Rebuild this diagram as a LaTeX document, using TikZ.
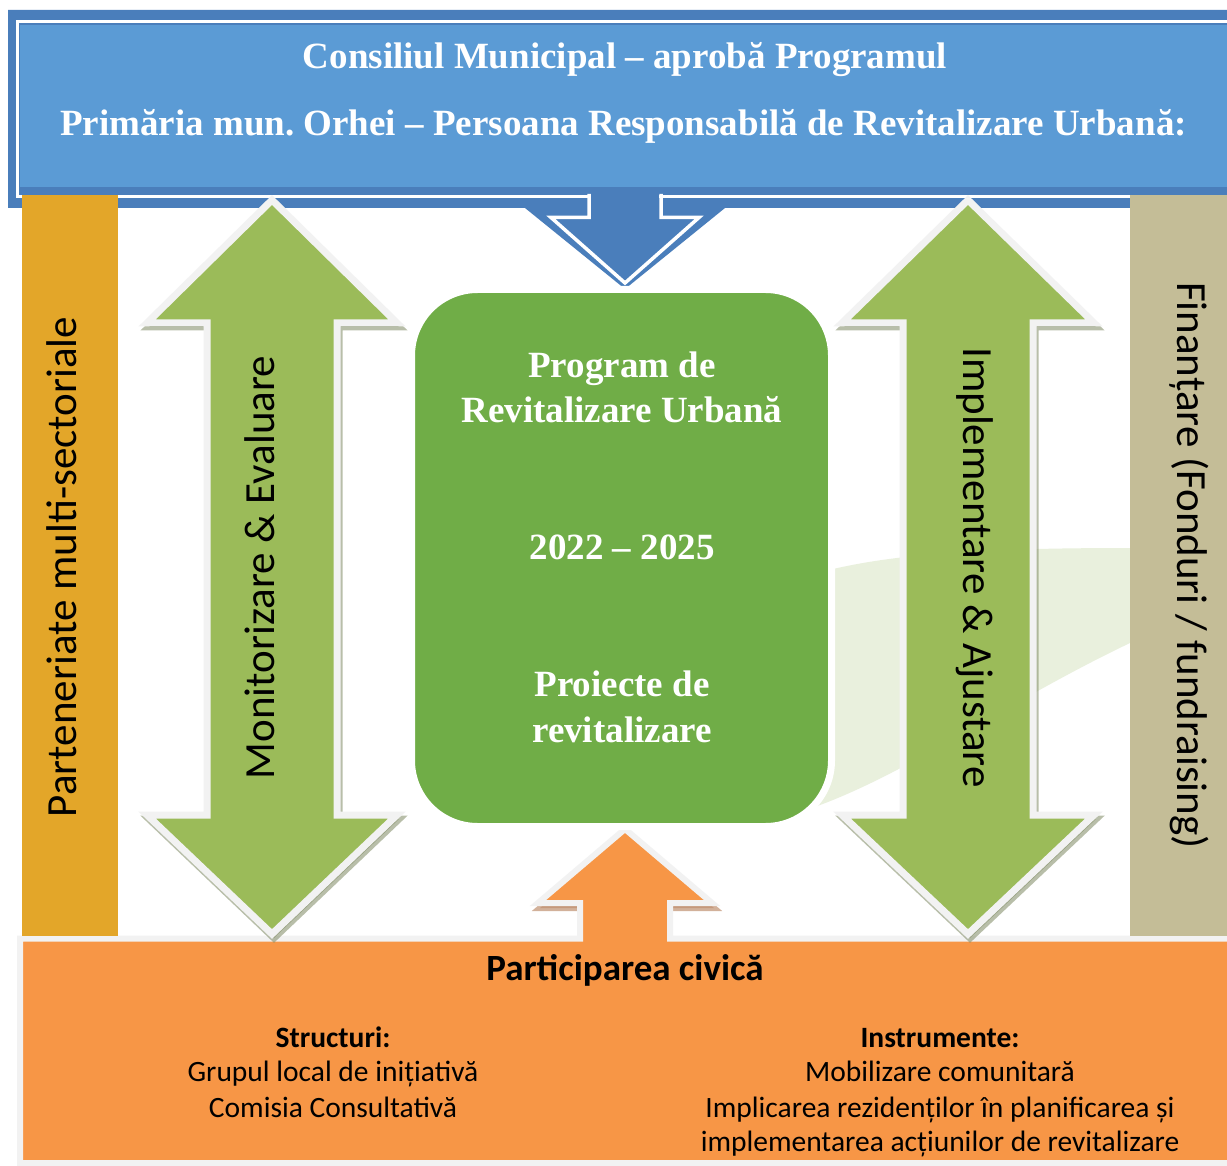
\documentclass[tikz,border=0pt]{standalone}
\usepackage{fontspec}
\setmainfont{Liberation Serif}
\newfontfamily\calibri{Carlito}
\definecolor{dblue}{HTML}{4A7EBB}
\definecolor{lblue}{HTML}{5B9BD5}
\definecolor{agreen}{HTML}{9BBB59}
\definecolor{bgreen}{HTML}{70AD47}
\definecolor{orng}{HTML}{F79646}
\definecolor{goldbar}{HTML}{E3A629}
\definecolor{tanbar}{HTML}{C4BD97}
\definecolor{swoosh}{HTML}{E9F0DD}
\definecolor{outl}{HTML}{F2F2F2}
\definecolor{gshad}{HTML}{7F8A63}
\definecolor{oshad}{HTML}{C09070}
\tikzset{
  garrow/.style={fill=agreen, draw=outl, line width=7, line join=miter},
  gshadow/.style={fill=gshad, draw=gshad, line width=7, line join=miter, opacity=0.55},
  toptext/.style={anchor=base, text=white, inner sep=0, font=\bfseries\fontsize{37}{44}\selectfont},
  vtext/.style={inner sep=0, text=black, font=\calibri\fontsize{43}{50}\selectfont},
  ctitle/.style={anchor=base, inner sep=0, font=\calibri\bfseries\fontsize{37}{44}\selectfont},
  chead/.style={anchor=base, inner sep=0, font=\calibri\bfseries\fontsize{29.5}{35}\selectfont},
  cline/.style={anchor=base, inner sep=0, font=\calibri\fontsize{29.5}{35}\selectfont}
}
\frenchspacing
\begin{document}
\begin{tikzpicture}[x=1pt,y=-1pt]
\useasboundingbox (0,0) rectangle (1227,1166);
\clip (0,0) rectangle (1227,1166);
\fill[white] (0,0) rectangle (1227,1166);

% light green swoosh
\fill[swoosh] (800,578) .. controls (870,556) and (960,548) .. (1130,548) -- (1130,643) .. controls (1000,705) and (900,780) .. (800,812) -- cycle;

% top blue frame with arrow
\fill[dblue] (8,10) -- (1240,10) -- (1240,208) -- (725,208) -- (625,289) -- (525,208) -- (8,208) -- cycle;
\draw[white, line width=3] (17,21.5) rectangle (1250,196.5);
\fill[lblue] (20,25) rectangle (1240,187);
\fill[dblue] (591,189) rectangle (659,201);
\draw[white, line width=3.5, line join=miter] (589,194) -- (589,217.5) -- (551,217.5) -- (625,283) -- (699,217.5) -- (661,217.5) -- (661,194);

% bottom orange box with up arrow
\path[draw=oshad, fill=oshad, line width=6, opacity=0.7, shift={(2,5)}] (580,903) -- (538,903) -- (625,829) -- (712,903) -- (670,903);
\draw[fill=orng, draw=outl, line width=6, line join=miter] (20,938.5) -- (580,938.5) -- (580,903) -- (538,903) -- (625,829) -- (712,903) -- (670,903) -- (670,938.5) -- (1250,938.5) -- (1250,1163) -- (20,1163) -- cycle;

% side bars
\fill[goldbar] (22,195) rectangle (118,936);
\fill[tanbar] (1130,195) rectangle (1240,936);

% left double arrow
\path[gshadow, shift={(2,4)}] (272,200) -- (397,323) -- (337,323) -- (337,815) -- (397,815) -- (272,934) -- (147,815) -- (207,815) -- (207,323) -- (147,323) -- cycle;
\draw[garrow] (272,200) -- (397,323) -- (337,323) -- (337,815) -- (397,815) -- (272,934) -- (147,815) -- (207,815) -- (207,323) -- (147,323) -- cycle;

% right double arrow
\path[gshadow, shift={(2,4)}] (968,200) -- (1094,323) -- (1033,323) -- (1033,815) -- (1094,815) -- (968,934) -- (842,815) -- (903,815) -- (903,323) -- (842,323) -- cycle;
\draw[garrow] (968,200) -- (1094,323) -- (1033,323) -- (1033,815) -- (1094,815) -- (968,934) -- (842,815) -- (903,815) -- (903,323) -- (842,323) -- cycle;

% central green box
\draw[fill=bgreen, draw=white, line width=7, rounded corners=66] (411.5,289.5) rectangle (831.5,826.5);

% texts
\node[toptext] (t1) at (625,69) {Consiliul Municipal – aprobă Programul};
\node[toptext] (t2) at (623.5,136) {Primăria mun. Orhei – Persoana Responsabilă de Revitalizare Urbană:};

\node[toptext] (g1) at (622,378) {Program de};
\node[toptext] (g2) at (622,422) {Revitalizare Urbană};
\node[toptext] (g3) at (622,559) {2022 – 2025};
\node[toptext] (g4) at (622,696) {Proiecte de};
\node[toptext] (g5) at (622,742) {revitalizare};

\node[vtext, rotate=90] (v1) at (62,567) {Parteneriate multi-sectoriale};
\node[vtext, rotate=90] (v2) at (260,567.5) {Monitorizare \& Evaluare};
\node[vtext, rotate=-90] (v3) at (975,567.5) {Implementare \& Ajustare};
\node[vtext, rotate=-90] (v4) at (1189,565.5) {Finanțare (Fonduri / fundraising)};

\node[ctitle] (c0) at (625,980) {Participarea civică};
\node[chead] (s0) at (333,1047) {Structuri:};
\node[cline] (s1) at (333,1081) {Grupul local de inițiativă};
\node[cline] (s2) at (333,1117) {Comisia Consultativă};
\node[chead] (i0) at (940,1047) {Instrumente:};
\node[cline] (i1) at (940,1081) {Mobilizare comunitară};
\node[cline] (i2) at (940,1117) {Implicarea rezidenților în planificarea și};
\node[cline] (i3) at (940,1151) {implementarea acțiunilor de revitalizare};
\end{tikzpicture}
\end{document}
